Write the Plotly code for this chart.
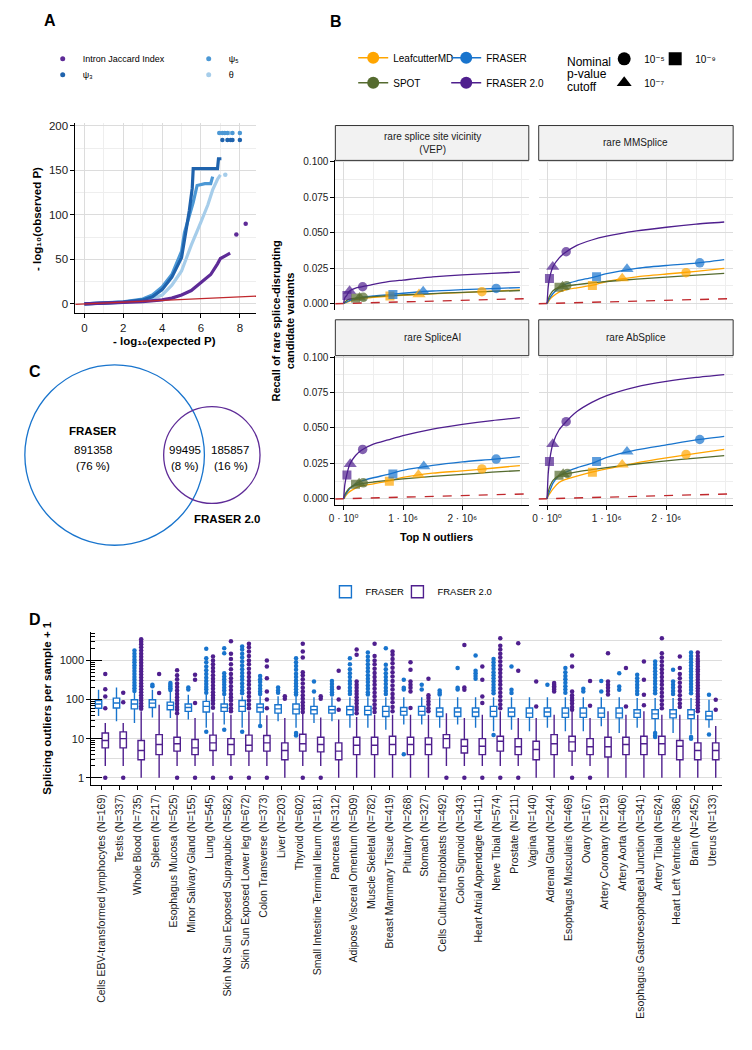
import math
import plotly.graph_objects as go

W, H = 752, 1050
FONT = "Liberation Sans, Arial, Helvetica, DejaVu Sans, sans-serif"
GRID = "#DCDCDC"
GRID_MINOR = "#EEEEEE"


def fx(p):
    return p / W


def fy(p):
    return 1 - p / H


# ======================= DATA =======================
# ---- Panel A: QQ plot ----
qq_diag = [-0.5, 8.9]
jaccard_exp = [0, 1, 2, 3, 4, 4.5, 5, 5.5, 6, 6.5, 6.85, 7.0, 7.25, 7.5]
jaccard_obs = [0, 0.7, 1.5, 2.6, 4.5, 6.5, 10, 15, 24, 33, 45, 51, 54, 57]
jaccard_tail_exp = [7.82, 8.3]
jaccard_tail_obs = [78, 90]
psi3_exp = [0, 1, 2, 3, 3.5, 4, 4.5, 5.0, 5.2, 5.4, 5.55, 5.6, 6.0, 6.5, 6.85, 6.9, 7.05]
psi3_obs = [0, 0.8, 2, 4.5, 8, 16, 30, 52, 78, 105, 130, 152, 152, 152, 152, 163, 163]
psi3_tail_exp = [7.1, 7.36, 7.53, 7.62, 8.0]
psi3_tail_obs = [184, 184, 184, 184, 184]
psi5_exp = [0, 1, 2, 3, 3.5, 4, 4.5, 5.0, 5.15, 5.4, 5.6, 5.8, 6.2, 6.5, 6.6]
psi5_obs = [0, 0.9, 2.2, 5.5, 10, 19, 33, 59, 80, 99, 114, 133, 135, 135, 143]
psi5_tail_exp = [6.94, 7.1, 7.22, 7.36, 7.62, 8.0]
psi5_tail_obs = [192, 192, 192, 192, 192, 192]
theta_exp = [0, 1, 2, 3, 3.5, 4, 4.5, 5.0, 5.5, 6.0, 6.35, 6.6, 6.85, 7.0]
theta_obs = [0, 0.7, 1.6, 3.5, 6, 10, 21, 37, 66, 92, 111, 128, 140, 145]
theta_tail_exp = [7.25, 7.45]
theta_tail_obs = [145, 192]

# ---- Panel B: recall curves ----
methods = ["LeafcutterMD", "FRASER", "SPOT", "FRASER 2.0"]
facet_titles = ["rare splice site vicinity<br>(VEP)", "rare MMSplice", "rare SpliceAI", "rare AbSplice"]
cutoff_labels = ["10⁻⁵", "10⁻⁷", "10⁻⁹"]
topn_grid = [0, 20000, 50000, 100000, 200000, 300000, 500000, 750000,
             1000000, 1500000, 2000000, 2500000, 2970000]
topn_ticks = [0, 1000000, 2000000]
topn_ticktext = ["0 · 10⁰", "1 · 10⁶", "2 · 10⁶"]
random_topn = [-150000, 3150000]
random_recall = [-0.0002, 0.0035]

recall_vep = [
    [0, 0.0003, 0.0008, 0.0015, 0.0028, 0.0035, 0.0043, 0.0051, 0.0058, 0.0068, 0.0077, 0.0086, 0.0095],
    [0, 0.0005, 0.001, 0.002, 0.0035, 0.0043, 0.0053, 0.0062, 0.0072, 0.0088, 0.0097, 0.0105, 0.0112],
    [0, 0.001, 0.002, 0.003, 0.0038, 0.0042, 0.0048, 0.0055, 0.006, 0.007, 0.0078, 0.0085, 0.009],
    [0, 0.004, 0.0056, 0.0088, 0.0108, 0.0117, 0.0135, 0.0154, 0.0165, 0.0187, 0.0202, 0.0212, 0.0222],
]
recall_mmsplice = [
    [0, 0.001, 0.003, 0.005, 0.008, 0.0095, 0.011, 0.0127, 0.0155, 0.0188, 0.0208, 0.0226, 0.0247],
    [0, 0.002, 0.004, 0.007, 0.011, 0.0135, 0.016, 0.0183, 0.021, 0.0248, 0.0268, 0.0285, 0.031],
    [0, 0.003, 0.006, 0.009, 0.0113, 0.0122, 0.0133, 0.0145, 0.0155, 0.0172, 0.0186, 0.02, 0.0212],
    [0, 0.012, 0.0195, 0.026, 0.032, 0.0358, 0.041, 0.0448, 0.0475, 0.0512, 0.0538, 0.056, 0.0575],
]
recall_spliceai = [
    [0, 0.001, 0.003, 0.005, 0.0075, 0.009, 0.0105, 0.0124, 0.015, 0.018, 0.0197, 0.0215, 0.0234],
    [0, 0.002, 0.004, 0.007, 0.0105, 0.0125, 0.0148, 0.0172, 0.02, 0.0235, 0.026, 0.0278, 0.0297],
    [0, 0.003, 0.005, 0.0075, 0.0098, 0.0107, 0.0118, 0.013, 0.014, 0.0158, 0.0172, 0.0187, 0.0199],
    [0, 0.01, 0.0165, 0.024, 0.0305, 0.0342, 0.0385, 0.0415, 0.0445, 0.0492, 0.0525, 0.0552, 0.0573],
]
recall_absplice = [
    [0, 0.002, 0.004, 0.007, 0.0115, 0.0135, 0.016, 0.0187, 0.021, 0.0253, 0.0288, 0.032, 0.0348],
    [0, 0.003, 0.006, 0.011, 0.016, 0.0185, 0.0218, 0.025, 0.0292, 0.0345, 0.038, 0.0415, 0.044],
    [0, 0.005, 0.009, 0.013, 0.0163, 0.0175, 0.019, 0.0205, 0.022, 0.0245, 0.0267, 0.0287, 0.0304],
    [0, 0.018, 0.029, 0.0392, 0.0485, 0.0535, 0.0615, 0.068, 0.0728, 0.079, 0.0828, 0.0856, 0.0876],
]
# points at the nominal p-value cutoffs [1e-5, 1e-7, 1e-9] per method
cutoff_x_vep = [[2330000, 1270000, 780000], [2570000, 1340000, 830000], [330000, 270000, 200000], [320000, 100000, 55000]]
cutoff_y_vep = [[0.0083, 0.0065, 0.0052], [0.0106, 0.0085, 0.0064], [0.0043, 0.0041, 0.0038], [0.0118, 0.0088, 0.0056]]
cutoff_x_mmsplice = [[2330000, 1260000, 760000], [2560000, 1340000, 830000], [330000, 260000, 200000], [320000, 95000, 40000]]
cutoff_y_mmsplice = [[0.0217, 0.0177, 0.0127], [0.0287, 0.0243, 0.0189], [0.0125, 0.012, 0.0115], [0.0365, 0.0259, 0.0177]]
cutoff_x_spliceai = [[2330000, 1260000, 770000], [2570000, 1350000, 830000], [330000, 260000, 200000], [320000, 110000, 55000]]
cutoff_y_spliceai = [[0.021, 0.0168, 0.0124], [0.028, 0.0229, 0.0175], [0.0112, 0.0108, 0.0102], [0.0348, 0.0245, 0.0168]]
cutoff_x_absplice = [[2330000, 1260000, 760000], [2560000, 1340000, 830000], [340000, 270000, 200000], [320000, 95000, 40000]]
cutoff_y_absplice = [[0.0313, 0.024, 0.0187], [0.0418, 0.0332, 0.0262], [0.0178, 0.0174, 0.0165], [0.0544, 0.0386, 0.0262]]

# ---- Panel C: Venn counts (FRASER only, both, FRASER 2.0 only) ----
venn_counts = [891358, 99495, 185857]

# ---- Panel D: outliers per sample ----
tissues = ["Cells EBV-transformed lymphocytes", "Testis", "Whole Blood", "Spleen", "Esophagus Mucosa",
           "Minor Salivary Gland", "Lung", "Skin Not Sun Exposed Suprapubic", "Skin Sun Exposed Lower leg",
           "Colon Transverse", "Liver", "Thyroid", "Small Intestine Terminal Ileum", "Pancreas",
           "Adipose Visceral Omentum", "Muscle Skeletal", "Breast Mammary Tissue", "Pituitary", "Stomach",
           "Cells Cultured fibroblasts", "Colon Sigmoid", "Heart Atrial Appendage", "Nerve Tibial", "Prostate",
           "Vagina", "Adrenal Gland", "Esophagus Muscularis", "Ovary", "Artery Coronary", "Artery Aorta",
           "Esophagus Gastroesophageal Junction", "Artery Tibial", "Heart Left Ventricle", "Brain", "Uterus"]
sample_sizes = [169, 337, 735, 217, 525, 155, 545, 582, 672, 373, 203, 602, 181, 312, 509, 782, 419, 268, 327,
                492, 343, 411, 574, 211, 140, 244, 469, 167, 219, 406, 341, 624, 386, 2452, 133]

fraser_lo = [38, 28, 25, 35, 34, 31, 19, 23, 19, 23, 28, 19, 25, 28, 19, 19, 17, 23, 23, 19, 23, 19, 15.5, 17,
             15.5, 19, 15.5, 15.5, 20.7, 14, 19, 15.5, 14, 12.7, 19]
fraser_q1 = [60, 61, 58, 63, 55, 50, 48, 50, 50, 48, 45, 43, 43, 45, 41, 41, 37, 40, 40, 37, 37, 37, 37, 37, 35,
             37, 35, 35, 35, 34, 35, 32.5, 34, 32.5, 31]
fraser_med = [77, 82, 77, 81, 71, 63, 67, 63, 67, 63, 58, 57, 55, 55, 55, 53, 50, 50, 50, 48, 48, 48, 50, 48, 45,
              48, 45, 45, 45, 45, 45, 43, 43, 41, 38]
fraser_q3 = [95, 109, 99, 99, 86, 77, 90, 77, 95, 77, 74, 77, 67, 67, 67, 67, 67, 63, 67, 61, 61, 61, 67, 61, 61,
             61, 61, 61, 61, 61, 55, 55, 55, 55, 50]
fraser_hi = [178, 205, 147, 178, 162, 133, 133, 121, 121, 121, 121, 121, 115, 115, 115, 115, 115, 115, 115, 115,
             115, 115, 115, 115, 115, 115, 115, 115, 115, 115, 110, 110, 110, 110, 99]
fraser_outliers = [
    [], [],
    [1800, 1500, 1250, 1050, 900, 760, 640, 540, 450, 380, 320, 270, 230, 195, 165],
    [240, 220],
    [265, 240, 215, 195, 175],
    [205, 180],
    [2000, 1150, 900, 700, 560, 450, 360, 300, 250, 210, 180, 150, 15],
    [2060, 1540, 475, 390, 330, 280, 240, 200, 170, 140, 17],
    [2300, 1900, 1500, 1200, 950, 750, 600, 480, 390, 320, 260, 210, 170, 145, 15],
    [400, 330, 280, 230, 190, 160, 140, 21],
    [205, 170, 150],
    [1150, 900, 720, 580, 460, 380, 310, 260, 220, 185, 155, 135, 14, 12],
    [290, 162],
    [300, 250, 210, 180, 155, 135],
    [1150, 800, 600, 470, 380, 300, 250, 200, 165, 140],
    [1600, 1250, 1000, 800, 640, 520, 420, 340, 280, 230, 190, 155, 135],
    [2060, 780, 600, 470, 380, 310, 250, 200, 165, 140],
    [320, 200, 180, 4],
    [240, 180],
    [170, 150, 135],
    [640, 200, 180],
    [1340, 550, 470, 400, 340],
    [1100, 900, 750, 620, 500, 420, 350, 290, 240, 200, 170, 145, 12.5],
    [700, 178, 147],
    [],
    [240],
    [640, 500, 400, 330, 270, 220, 180, 150],
    [190, 162],
    [300, 160],
    [475, 217, 178],
    [430, 350, 290, 240, 200, 165, 140],
    [940, 780, 640, 530, 440, 360, 300, 250, 205, 170, 145, 14, 12, 11],
    [580, 290, 240, 200, 165, 140],
    [1600, 1300, 1100, 900, 750, 620, 520, 430, 360, 300, 250, 210, 175, 145, 11, 10],
    [133, 12.7],
]

fraser2_lo = [2, 2, 1, 1, 2, 2, 2, 2, 2, 2, 1, 2, 2, 1, 1, 1, 1, 1, 1, 2, 2, 2, 2, 2, 1, 1, 2, 2, 1, 1, 1, 1, 1, 1, 1]
fraser2_q1 = [5.8, 5.8, 2.9, 3.9, 4.8, 3.9, 5, 3.9, 4.8, 4.8, 2.9, 4.8, 4.6, 2.9, 3.9, 3.9, 3.9, 3.9, 3.9, 5.8,
              4.3, 3.9, 4.8, 3.9, 2.9, 3.9, 4.8, 3.9, 3.4, 3.9, 3.9, 3.9, 2.9, 2.9, 2.9]
fraser2_med = [9, 10, 5, 7.1, 7.4, 5.8, 7.8, 7.1, 6.8, 7.8, 5, 7.4, 7.1, 4.8, 6.8, 6.8, 7.1, 7.1, 7.1, 10, 6.4,
               6.4, 8.6, 6.2, 5.3, 7.4, 8.3, 6.2, 6.2, 7.1, 7.4, 7.4, 6.4, 5, 5]
fraser2_q3 = [14, 14.9, 9, 12.7, 10.9, 9.5, 12.3, 10, 12.3, 12, 7.8, 13, 10.9, 7.8, 10.9, 10.9, 11.5, 10.9, 10.5,
              12.7, 9.5, 10, 11.5, 10, 8.6, 12.7, 11.5, 10, 10.9, 10.9, 11.5, 11.5, 9, 7.8, 7.8]
fraser2_hi = [25, 25, 50, 74, 40, 34, 47, 41, 50, 40, 34, 45, 35, 31, 36, 41, 41, 41, 41, 45, 34, 41, 50, 34, 34,
              41, 50, 34, 50, 41, 50, 41, 41, 41, 21]
fraser2_outliers = [
    [455, 185, 120, 60, 1],
    [150, 86, 1],
    [3500, 3000, 2600, 2200, 1800, 1500, 1250, 1050, 880, 740, 620, 520, 440, 370, 310, 260, 220, 185, 155,
     130, 110, 95, 80, 68, 58],
    [450, 147],
    [560, 420, 330, 260, 210, 170, 140, 115, 95, 78, 65, 55, 45, 1],
    [430, 320, 82, 1],
    [1260, 1000, 800, 640, 520, 420, 340, 280, 230, 190, 155, 130, 110, 95, 78, 62, 1],
    [3100, 1500, 1100, 800, 600, 450, 350, 280, 220, 175, 140, 115, 95, 75, 60, 50, 1],
    [2700, 2200, 1700, 1300, 1000, 800, 620, 480, 380, 300, 240, 190, 150, 120, 95, 75, 60, 1],
    [1000, 700, 350, 160, 100, 60, 1],
    [121, 105],
    [2700, 1700, 1200, 500, 420, 330, 260, 200, 160, 130, 105, 85, 70, 58, 48, 1],
    [121, 105, 1],
    [545, 200, 100, 55],
    [1900, 1400, 290, 240, 200, 165, 140, 115, 95, 80, 65, 55, 45],
    [2700, 1300, 1000, 800, 620, 480, 380, 300, 240, 190, 150, 120, 95, 75, 60, 48],
    [1700, 1400, 1100, 850, 650, 500, 390, 300, 230, 180, 140, 110, 85, 65, 50],
    [900, 580, 290, 240, 200, 160, 61],
    [340, 130, 110, 90, 75, 60, 50],
    [1],
    [2500, 205, 178, 1],
    [700, 320, 120, 82, 1],
    [3700, 2400, 1900, 1500, 1200, 950, 750, 600, 480, 380, 300, 240, 190, 150, 120, 95, 75, 60, 1],
    [2760, 545, 1],
    [290, 67],
    [265, 240, 220, 200, 180, 160],
    [1340, 700, 160, 130, 110, 95, 80, 65, 55, 1],
    [300, 70, 1],
    [1540, 290, 240, 200, 165, 135],
    [640, 67],
    [940, 320, 133, 72],
    [3700, 1540, 1200, 950, 750, 600, 480, 380, 300, 240, 190, 150, 120, 95, 75, 60],
    [1260, 640, 450, 350, 270, 210, 165, 130, 100, 80, 65],
    [1600, 1300, 1100, 950, 820, 700, 600, 520, 440, 380, 320, 270, 230, 195, 165, 140, 120, 100, 85, 72, 60, 50],
    [99, 55],
]

# ======================= STYLE =======================
COL_JACCARD = "#5E2B97"
COL_PSI3 = "#1F63AD"
COL_PSI5 = "#4C98D5"
COL_THETA = "#A6CDEA"
COL_RED = "#C0282D"
method_colors = ["#FFA500", "#1874CD", "#556B2F", "#4F1F8E"]
cutoff_symbols = ["circle", "triangle-up", "square"]
cutoff_sizes = [9.5, 11.5, 9]
COL_FRASER = "#1874CD"
COL_FRASER2 = "#4F1F8E"

fig = go.Figure()

# ======================= PANEL A =======================
for xs, ys, col in [(theta_exp, theta_obs, COL_THETA), (psi5_exp, psi5_obs, COL_PSI5),
                    (psi3_exp, psi3_obs, COL_PSI3), (jaccard_exp, jaccard_obs, COL_JACCARD)]:
    fig.add_trace(go.Scatter(x=xs, y=ys, mode="lines", line=dict(color=col, width=3.2),
                             showlegend=False, hoverinfo="skip", xaxis="x", yaxis="y"))
for xs, ys, col in [(theta_tail_exp, theta_tail_obs, COL_THETA), (psi5_tail_exp, psi5_tail_obs, COL_PSI5),
                    (psi3_tail_exp, psi3_tail_obs, COL_PSI3), (jaccard_tail_exp, jaccard_tail_obs, COL_JACCARD)]:
    fig.add_trace(go.Scatter(x=xs, y=ys, mode="markers", marker=dict(color=col, size=4.5),
                             showlegend=False, hoverinfo="skip", xaxis="x", yaxis="y"))
fig.add_trace(go.Scatter(x=qq_diag, y=qq_diag, mode="lines", line=dict(color=COL_RED, width=1.3),
                         showlegend=False, hoverinfo="skip", xaxis="x", yaxis="y"))
for name, col, lg in [("Intron Jaccard Index", COL_JACCARD, "legend"), ("ψ₅", COL_PSI5, "legend"),
                      ("ψ₃", COL_PSI3, "legend2"), ("θ", COL_THETA, "legend2")]:
    fig.add_trace(go.Scatter(x=[None], y=[None], mode="markers", marker=dict(color=col, size=5),
                             name=name, legend=lg, showlegend=True, legendwidth=101,
                             xaxis="x", yaxis="y"))

# ======================= PANEL B =======================
facet_axes = [("x2", "y2"), ("x3", "y3"), ("x4", "y4"), ("x5", "y5")]
facet_curves = [recall_vep, recall_mmsplice, recall_spliceai, recall_absplice]
facet_cut_x = [cutoff_x_vep, cutoff_x_mmsplice, cutoff_x_spliceai, cutoff_x_absplice]
facet_cut_y = [cutoff_y_vep, cutoff_y_mmsplice, cutoff_y_spliceai, cutoff_y_absplice]
for k, (xa, ya) in enumerate(facet_axes):
    fig.add_trace(go.Scatter(x=random_topn, y=random_recall, mode="lines",
                             line=dict(color=COL_RED, width=1.4, dash="dash"),
                             showlegend=False, hoverinfo="skip", xaxis=xa, yaxis=ya))
    for m in range(4):
        fig.add_trace(go.Scatter(x=topn_grid, y=facet_curves[k][m], mode="lines",
                                 line=dict(color=method_colors[m], width=1.3, shape="spline", smoothing=0.6),
                                 showlegend=False, hoverinfo="skip", xaxis=xa, yaxis=ya))
    for m in range(4):
        fig.add_trace(go.Scatter(x=facet_cut_x[k][m], y=facet_cut_y[k][m], mode="markers",
                                 marker=dict(color=method_colors[m], size=cutoff_sizes, symbol=cutoff_symbols,
                                             line=dict(width=0)),
                                 showlegend=False, hoverinfo="skip", xaxis=xa, yaxis=ya))
# colour legends (two rows)
for m, lg, wd in zip(range(4), ["legend3", "legend3", "legend4", "legend4"], [48, 80, 48, 80]):
    fig.add_trace(go.Scatter(x=[None], y=[None], mode="lines+markers", name=methods[m], legend=lg,
                             legendwidth=wd, line=dict(color=method_colors[m], width=1.5),
                             marker=dict(color=method_colors[m], size=12), xaxis="x", yaxis="y"))
# shape legends
for i, lg, wd in zip([0, 2, 1], ["legend5", "legend5", "legend6"], [6, 40, 40]):
    fig.add_trace(go.Scatter(x=[None], y=[None], mode="markers", name=cutoff_labels[i], legend=lg,
                             legendwidth=wd, marker=dict(color="black", size=13, symbol=cutoff_symbols[i]),
                             xaxis="x", yaxis="y"))

# ======================= PANEL D =======================
tissue_labels = [f"{t} (N={n})" for t, n in zip(tissues, sample_sizes)]
fig.add_trace(go.Box(x=tissue_labels, q1=fraser_q1, median=fraser_med, q3=fraser_q3,
                     lowerfence=fraser_lo, upperfence=fraser_hi, name="FRASER", legendwidth=27,
                     line=dict(color=COL_FRASER, width=1.4), fillcolor="white", whiskerwidth=0,
                     boxpoints=False, offsetgroup="fraser", legend="legend7",
                     xaxis="x6", yaxis="y6", hoverinfo="skip"))
fig.add_trace(go.Box(x=tissue_labels, q1=fraser2_q1, median=fraser2_med, q3=fraser2_q3,
                     lowerfence=fraser2_lo, upperfence=fraser2_hi, name="FRASER 2.0", legendwidth=70,
                     line=dict(color=COL_FRASER2, width=1.4), fillcolor="white", whiskerwidth=0,
                     boxpoints=False, offsetgroup="fraser2", legend="legend7",
                     xaxis="x6", yaxis="y6", hoverinfo="skip"))
for outs, col, grp in [(fraser_outliers, COL_FRASER, "fraser"), (fraser2_outliers, COL_FRASER2, "fraser2")]:
    ox = [lab for lab, o in zip(tissue_labels, outs) for _ in o]
    oy = [v for o in outs for v in o]
    fig.add_trace(go.Box(x=ox, y=oy, boxpoints="all", jitter=0, pointpos=0, whiskerwidth=0,
                         line=dict(width=0, color="rgba(0,0,0,0)"), fillcolor="rgba(0,0,0,0)",
                         marker=dict(color=col, size=4.5), offsetgroup=grp, showlegend=False,
                         xaxis="x6", yaxis="y6", hoverinfo="skip"))
fig.add_trace(go.Scatter(x=[None], y=[None], xaxis="x6", yaxis="y7", showlegend=False, hoverinfo="skip"))

# ======================= LAYOUT =======================
TICKFONT = dict(size=10, family=FONT, color="#1a1a1a")


def axis(**kw):
    base = dict(showline=True, linecolor="black", linewidth=1, ticks="outside", ticklen=4, tickcolor="black",
                tickwidth=1, zeroline=False, showgrid=True, gridcolor=GRID, gridwidth=1,
                tickfont=TICKFONT, fixedrange=True)
    base.update(kw)
    return base


layout = dict(
    width=W, height=H, margin=dict(l=0, r=0, t=0, b=0),
    paper_bgcolor="white", plot_bgcolor="white",
    font=dict(family=FONT, size=10, color="black"),
    hovermode=False, showlegend=True,
    boxmode="group", boxgap=0.25, boxgroupgap=0.05,
)

# Panel A axes
layout["xaxis"] = axis(domain=[fx(70), fx(252)], range=[-0.46, 8.83], anchor="y",
                       tickvals=[0, 2, 4, 6, 8], tickfont=dict(size=11.5, family=FONT, color="#1a1a1a"),
                       minor=dict(tickvals=[1, 3, 5, 7], showgrid=True, gridcolor=GRID_MINOR, ticks=""))
layout["yaxis"] = axis(domain=[fy(310), fy(119.6)], range=[-10, 203], anchor="x",
                       tickvals=[0, 50, 100, 150, 200], tickfont=dict(size=11.5, family=FONT, color="#1a1a1a"),
                       minor=dict(tickvals=[25, 75, 125, 175], showgrid=True, gridcolor=GRID_MINOR, ticks=""))

# Panel B axes
facet_boxes = [(332, 527, 157, 307), (537, 733, 157, 307), (332, 527, 353, 503), (537, 733, 353, 503)]
for k, (x0, x1, y0, y1) in enumerate(facet_boxes):
    n = k + 2
    bottom = k >= 2
    left = k % 2 == 0
    layout[f"xaxis{n}"] = axis(domain=[fx(x0), fx(x1)], range=[-140000, 3120000], anchor=f"y{n}",
                               tickvals=topn_ticks, ticktext=topn_ticktext,
                               showticklabels=bottom, showline=bottom, ticks="outside" if bottom else "",
                               minor=dict(tickvals=[500000, 1500000, 2500000, 3000000], showgrid=True,
                                          gridcolor=GRID_MINOR, ticks=""))
    layout[f"yaxis{n}"] = axis(domain=[fy(y1), fy(y0)], range=[-0.0045, 0.101], anchor=f"x{n}",
                               tickvals=[0, 0.025, 0.05, 0.075, 0.1], tickformat=".3f",
                               showticklabels=left, showline=left, ticks="outside" if left else "",
                               minor=dict(tickvals=[0.0125, 0.0375, 0.0625, 0.0875], showgrid=True,
                                          gridcolor=GRID_MINOR, ticks=""))

# Panel D axes
layout["xaxis6"] = axis(domain=[fx(86), fx(722)], type="category", categoryorder="array",
                        categoryarray=tissue_labels, range=[-0.59, 34.55], anchor="y6",
                        tickmode="linear", tick0=0, dtick=1, tickangle=-90, showgrid=False,
                        tickfont=dict(size=10.5, family=FONT, color="#1a1a1a"))
layout["yaxis6"] = axis(domain=[fy(784), fy(630)], type="log", range=[-0.186, 3.74], anchor="x6",
                        tickvals=[1, 10, 100, 1000], ticktext=["1", "10", "100", "1000"], gridcolor="#DDDDDD",
                        tickfont=dict(size=11, family=FONT, color="#1a1a1a"),
                        minor=dict(tickvals=[3.162, 31.62, 316.2, 3162], showgrid=True, gridcolor="#DDDDDD",
                                   ticks=""))
layout["yaxis7"] = dict(overlaying="y6", anchor="x6", side="left", type="log", range=[-0.186, 3.74],
                        tickvals=[1, 10, 100, 1000], ticks="inside", ticklen=11, tickcolor="black",
                        showticklabels=False, showgrid=False, showline=False, zeroline=False, fixedrange=True,
                        minor=dict(tickvals=[2, 3, 4, 5, 6, 7, 8, 9, 20, 30, 40, 50, 60, 70, 80, 90,
                                             200, 300, 400, 500, 600, 700, 800, 900, 2000, 3000, 4000, 5000],
                                   ticks="inside", ticklen=4, tickcolor="black", showgrid=False))


# Legends
def legend_row(x_px, y_px, size):
    return dict(x=fx(x_px), y=fy(y_px), xanchor="left", yanchor="middle", orientation="h",
                entrywidthmode="pixels",
                font=dict(size=size, family=FONT, color="black"), bgcolor="rgba(0,0,0,0)", borderwidth=0,
                itemclick=False, itemdoubleclick=False)


layout["legend"] = legend_row(37, 55, 9)
layout["legend2"] = legend_row(37, 71, 9)
layout["legend3"] = legend_row(350, 54, 10)
layout["legend4"] = legend_row(350, 79, 10)
layout["legend5"] = legend_row(603, 55, 10)
layout["legend6"] = legend_row(603, 79, 10)
layout["legend7"] = legend_row(322, 590, 9.5)

# Annotations
ann = []


def text(x, y, s, size=11, bold=False, angle=0, xanchor="center", color="black"):
    ann.append(dict(x=fx(x), y=fy(y), xref="paper", yref="paper", text=f"<b>{s}</b>" if bold else s,
                    showarrow=False, textangle=angle, xanchor=xanchor, yanchor="middle",
                    font=dict(size=size, family=FONT, color=color)))


text(44, 17, "A", 16, True)
text(333, 18, "B", 16, True)
text(29, 369, "C", 16, True)
text(29, 618, "D", 16, True)

text(160, 338, "- log₁₀(expected P)", 11.5, True)
text(31, 216, "- log₁₀(observed P)", 11.5, True, -90)

text(434, 535, "Top N outliers", 11, True)
text(279, 318, "Recall of rare splice-disrupting<br>candidate variants", 11, True, -90)
text(563, 58, "Nominal", 12, xanchor="left")
text(563, 70.5, "p-value", 12, xanchor="left")
text(563, 83, "cutoff", 12, xanchor="left")

text(41.7, 707, "Splicing outliers per sample + 1", 11.5, True, -90)

shapes = []
strip_boxes = [(332, 527, 122, 157), (537, 733, 122, 157), (332, 527, 317, 353), (537, 733, 317, 353)]
for (x0, x1, y0, y1), title in zip(strip_boxes, facet_titles):
    shapes.append(dict(type="rect", xref="paper", yref="paper", x0=fx(x0), x1=fx(x1), y0=fy(y1), y1=fy(y0),
                       fillcolor="#F2F2F2", line=dict(color="#333333", width=1), layer="above"))
    text((x0 + x1) / 2, (y0 + y1) / 2, title, 10, color="#1a1a1a")

# Panel C (Venn)
total = sum(venn_counts)
pct = [round(100 * c / total) for c in venn_counts]
fraser_total = venn_counts[0] + venn_counts[1]
fraser2_total = venn_counts[1] + venn_counts[2]
r_blue = 90.5
r_purple = r_blue * math.sqrt(fraser2_total / fraser_total)
cy = 452.8
for cx, r, col in [(109.5, r_blue, COL_FRASER), (207.5, r_purple, COL_JACCARD)]:
    shapes.append(dict(type="circle", xref="paper", yref="paper", x0=fx(cx - r), x1=fx(cx + r),
                       y0=fy(cy + r), y1=fy(cy - r), line=dict(color=col, width=1.3)))
text(88, 429, "FRASER", 11.5, True)
text(88, 448, f"{venn_counts[0]}", 11.5)
text(88, 464, f"({pct[0]} %)", 11.5)
text(180, 448, f"{venn_counts[1]}", 11.5)
text(180, 464, f"({pct[1]} %)", 11.5)
text(226, 448, f"{venn_counts[2]}", 11.5)
text(227, 464, f"({pct[2]} %)", 11.5)
text(223, 517, "FRASER 2.0", 11.5, True)

layout["annotations"] = ann
layout["shapes"] = shapes
fig.update_layout(**layout)

fig.write_html("out.html", config={"displayModeBar": False},
               post_script="document.body.style.margin='0';")
